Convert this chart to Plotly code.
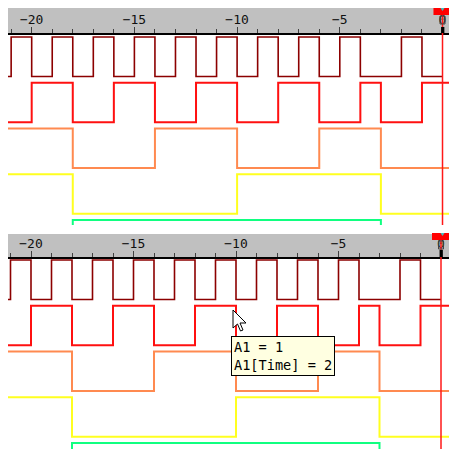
import plotly.graph_objects as go

# ---------------- data ----------------
TIME = list(range(-22, 3))            # start time of each interval
A1 = [0, 1, 0, 1, 0, 1, 0, 1, 0, 1, 0, 1, 0, 1, 0, 1, 0, 1, 0, 0, 1, 0, 0, None, None]
A2 = [0, 0, 1, 1, 0, 0, 1, 1, 0, 0, 1, 1, 0, 0, 1, 1, 0, 0, 1, 0, 0, 1, 1, 1, 1]
A3 = [1, 1, 1, 1, 0, 0, 0, 0, 1, 1, 1, 1, 0, 0, 0, 0, 1, 1, 1, 0, 0, 0, 0, 0, 0]
A4 = [1, 1, 1, 1, 0, 0, 0, 0, 0, 0, 0, 0, 1, 1, 1, 1, 1, 1, 1, 0, 0, 0, 0, 0, 0]
A5 = [0, 0, 0, 0, 1, 1, 1, 1, 1, 1, 1, 1, 1, 1, 1, 1, 1, 1, 1, 0, 0, 0, 0, 0, 0]
SIGNALS = [A1, A2, A3, A4, A5]
COLORS = ["#8c0000", "#ff1010", "#ff8a50", "#ffff20", "#10ff80"]
WIDTHS = [1.6, 2, 2, 2, 2]
CURSOR_T = 0
TICK_STEP = 5
TOOLTIP_LINES = ["A1 = 1", "A1[Time] = 2"]

# ---------------- layout helpers ----------------
# the page body adds an 8px offset, so screen coordinates are shifted by 8
W, H = 457, 449
OFF = 8
def py(p):
    return 1 - (p - OFF) / H
def px(p):
    return (p - OFF) / W

LANE = 45.75 / 39.5
XR1 = [-20 - (31.7 - 8) / 20.55, (465 - 442.5) / 20.55]
XR2 = [-20 - (31.0 - 8) / 20.5, (465 - 441.0) / 20.5]

fig = go.Figure()
# empty traces so the ruler subplots exist
for xa, ya in (("x", "y"), ("x2", "y3")):
    fig.add_trace(go.Scatter(x=[None], y=[None], xaxis=xa, yaxis=ya,
                             mode="lines", hoverinfo="skip", showlegend=False))
for xa, ya in (("x3", "y2"), ("x4", "y4")):
    for i, (vals, col, w) in enumerate(zip(SIGNALS, COLORS, WIDTHS)):
        yv = [None if v is None else v - i * LANE for v in vals]
        fig.add_trace(go.Scatter(
            x=TIME, y=yv, mode="lines", line=dict(color=col, width=w, shape="hv"),
            xaxis=xa, yaxis=ya, hoverinfo="skip", showlegend=False,
        ))

def ruler_axis(rng, anchor):
    return dict(
        domain=[0, 1], range=rng, anchor=anchor, automargin=False,
        showline=True, linecolor="black", linewidth=2,
        ticks="inside", ticklen=6, tickwidth=1, tickcolor="#404040",
        tick0=0, dtick=TICK_STEP, ticklabelposition="inside",
        tickfont=dict(family="DejaVu Sans Mono", size=13, color="#101010"),
        minor=dict(dtick=1, ticks="inside", ticklen=4, tickcolor="#404040", showgrid=False),
        showgrid=False, zeroline=False, fixedrange=True,
    )

hidden = dict(visible=False, showgrid=False, zeroline=False, fixedrange=True, automargin=False)
fig.update_layout(
    width=W, height=H, margin=dict(l=0, r=0, t=0, b=0, autoexpand=False),
    paper_bgcolor="white", plot_bgcolor="white",
    xaxis=ruler_axis(XR1, "y"),
    xaxis2=ruler_axis(XR2, "y3"),
    xaxis3=dict(domain=[0, 1], range=XR1, anchor="y2", **hidden),
    xaxis4=dict(domain=[0, 1], range=XR2, anchor="y4", **hidden),
    yaxis=dict(domain=[py(33), 1], range=[0, 1], anchor="x", **hidden),
    yaxis2=dict(domain=[py(225), py(33)], range=[1 - 188 / 39.5, 1 + 4 / 39.5], anchor="x3", **hidden),
    yaxis3=dict(domain=[py(257), py(234)], range=[0, 1], anchor="x2", **hidden),
    yaxis4=dict(domain=[0, py(257)], range=[1 - 197 / 39.5, 1 + 3 / 39.5], anchor="x4", **hidden),
)

shapes = []
# ruler backgrounds
for xd, yd in (("x domain", "y domain"), ("x2 domain", "y3 domain")):
    shapes.append(dict(type="rect", xref=xd, yref=yd, x0=0, x1=1, y0=0, y1=1,
                       fillcolor="#c0c0c0", line=dict(width=0), layer="below"))

# cursors
for xr, bot, mk_top, mk_bot, blk_top, blk_bot in (
        ("x", 225, 8, 15, 27, 33), ("x2", 460, 233, 240, 250, 257)):
    shapes.append(dict(type="line", xref=xr, yref="paper", x0=CURSOR_T, x1=CURSOR_T,
                       y0=py(bot), y1=py(mk_bot), line=dict(color="#ff1818", width=1.5)))
    shapes.append(dict(type="rect", xref=xr, yref="paper", x0=CURSOR_T - 0.44, x1=CURSOR_T + 0.39,
                       y0=py(mk_bot), y1=py(mk_top), fillcolor="#ff0000", line=dict(width=0)))
    shapes.append(dict(type="rect", xref=xr, yref="paper", x0=CURSOR_T - 0.12, x1=CURSOR_T + 0.12,
                       y0=py(mk_bot + 9), y1=py(mk_bot + 1), fillcolor="rgba(0,0,0,0)",
                       line=dict(color="#404040", width=1)))
    shapes.append(dict(type="rect", xref=xr, yref="paper", x0=CURSOR_T - 0.07, x1=CURSOR_T + 0.09,
                       y0=py(blk_bot), y1=py(blk_top), fillcolor="black", line=dict(width=0)))
    shapes.append(dict(type="path", xref="paper", yref="paper",
                       path=f"M{px(440.5)},{py(mk_top)} L{px(444.5)},{py(mk_top)} L{px(442.5)},{py(mk_top + 3)} Z",
                       fillcolor="#40c0c0", line=dict(width=0)))

# mouse pointer
tipx, tipy = 233, 310
pts = [(0, 0), (0, 18), (4.5, 14), (7.5, 21), (10, 20), (7, 13), (13, 13)]
path = "M" + " L".join(f"{px(tipx + a)},{py(tipy + b)}" for a, b in pts) + " Z"
shapes.append(dict(type="path", xref="paper", yref="paper", path=path,
                   fillcolor="white", line=dict(color="black", width=1)))
fig.update_layout(shapes=shapes)

fig.add_annotation(
    xref="paper", yref="paper", x=px(231), y=py(336), xanchor="left", yanchor="top",
    text="<br>".join(TOOLTIP_LINES), showarrow=False, align="left",
    font=dict(family="DejaVu Sans Mono", size=13.6, color="black"),
    bgcolor="#ffffe1", bordercolor="black", borderwidth=1, borderpad=2,
)

fig.write_html("out.html")
